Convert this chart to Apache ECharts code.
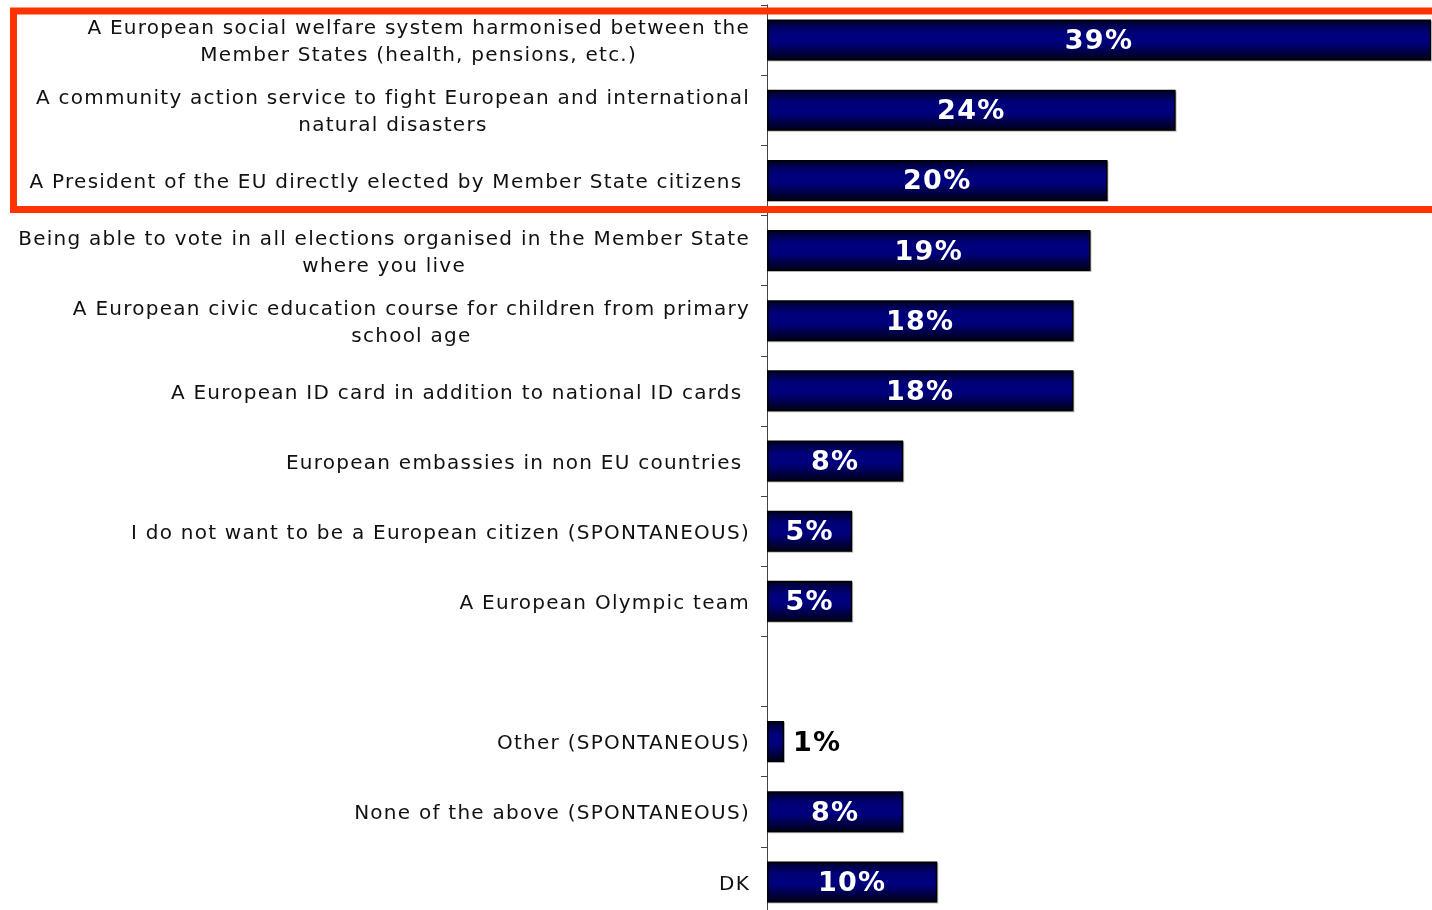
<!DOCTYPE html>
<html>
<head>
<meta charset="utf-8">
<script src="https://cdn.jsdelivr.net/npm/echarts@6/dist/echarts.min.js"></script>
<style>
  html, body { margin: 0; padding: 0; background: #fff; overflow: hidden; }
  #chart { width: 1432px; height: 920px; }
</style>
</head>
<body>
<div id="chart"></div>
<script>
// Answer options, top to bottom (one blank slot separates the spontaneous answers)
const categories = [
  'A European social welfare system harmonised between the\nMember States (health, pensions, etc.)',
  'A community action service to fight European and international\nnatural disasters',
  'A President of the EU directly elected by Member State citizens ',
  'Being able to vote in all elections organised in the Member State\nwhere you live',
  'A European civic education course for children from primary\nschool age',
  'A European ID card in addition to national ID cards ',
  'European embassies in non EU countries ',
  'I do not want to be a European citizen (SPONTANEOUS)',
  'A European Olympic team',
  '',
  'Other (SPONTANEOUS)',
  'None of the above (SPONTANEOUS)',
  'DK'
];
// Share of respondents, in percent
const values = [39, 24, 20, 19, 18, 18, 8, 5, 5, null, 1, 8, 10];
// Values too small to hold their label inside the bar
const outsideLabelMax = 2;

// Wide tracking for all chart text: drawn with canvas letterSpacing,
// and measured with the same extra advance so layout stays consistent.
const TRACKING = 1.25;
(function () {
  const proto = CanvasRenderingContext2D.prototype;
  const fill = proto.fillText;
  const stroke = proto.strokeText;
  proto.fillText = function (t, x, y, m) {
    const prev = this.letterSpacing;
    this.letterSpacing = TRACKING + 'px';
    m === undefined ? fill.call(this, t, x, y) : fill.call(this, t, x, y, m);
    this.letterSpacing = prev;
  };
  proto.strokeText = function (t, x, y, m) {
    const prev = this.letterSpacing;
    this.letterSpacing = TRACKING + 'px';
    m === undefined ? stroke.call(this, t, x, y) : stroke.call(this, t, x, y, m);
    this.letterSpacing = prev;
  };
  const mctx = document.createElement('canvas').getContext('2d');
  echarts.setPlatformAPI({
    measureText(text, font) {
      mctx.font = font || '12px sans-serif';
      mctx.letterSpacing = '0px';
      const s = String(text == null ? '' : text);
      return { width: mctx.measureText(s).width + TRACKING * s.length };
    }
  });
})();

const chart = echarts.init(document.getElementById('chart'));

const barFill = new echarts.graphic.LinearGradient(0, 0, 0, 1, [
  { offset: 0, color: '#000026' },
  { offset: 0.3, color: '#000078' },
  { offset: 0.55, color: '#000080' },
  { offset: 1, color: '#000014' }
]);

const seriesData = values.map(v => {
  if (v === null) return null;
  const outside = v <= outsideLabelMax;
  return {
    value: v,
    label: {
      position: outside ? 'right' : 'inside',
      color: outside ? '#000' : '#fff',
      distance: 9
    }
  };
});

const labelFont = { fontFamily: 'DejaVu Sans', fontSize: 20, lineHeight: 27, color: '#111' };

chart.setOption({
  animation: false,
  grid: { left: 767, top: 5, width: 664, height: 912 },
  xAxis: {
    type: 'value',
    min: 0,
    max: 39,
    show: false
  },
  yAxis: {
    type: 'category',
    inverse: true,
    data: categories,
    axisLine: { lineStyle: { color: '#444', width: 1 } },
    axisTick: { show: true, length: 6, lineStyle: { color: '#444' } },
    axisLabel: Object.assign({
      margin: 17,
      align: 'right',
      padding: [5, 0, 0, 0],
      // each line is centred within the right-aligned label block
      formatter: v => v ? v.split('\n').map(l => '{c|' + l + '}').join('\n') : '',
      rich: { c: Object.assign({ align: 'center' }, labelFont) }
    }, labelFont)
  },
  series: [{
    type: 'bar',
    data: seriesData,
    barWidth: 41,
    itemStyle: {
      color: barFill,
      borderColor: '#000',
      borderWidth: 1.5,
      shadowColor: 'rgba(0,0,0,0.25)',
      shadowOffsetX: 1,
      shadowOffsetY: 1
    },
    label: {
      show: true,
      formatter: '{c}%',
      fontFamily: 'DejaVu Sans',
      fontWeight: 'bold',
      fontSize: 27,
      offset: [0, 2]
    }
  }],
  graphic: [{
    type: 'rect',
    z: 100,
    shape: { x: 13.5, y: 11, width: 1440, height: 198.5 },
    style: { fill: 'none', stroke: '#ff3300', lineWidth: 7 }
  }]
});
</script>
</body>
</html>
